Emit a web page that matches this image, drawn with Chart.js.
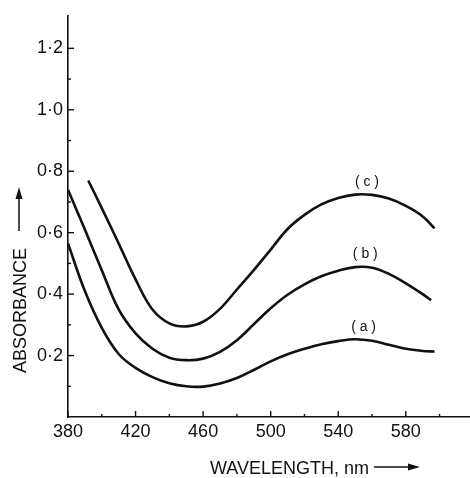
<!DOCTYPE html>
<html><head><meta charset="utf-8">
<script src="https://cdn.jsdelivr.net/npm/chart.js@4.4.0/dist/chart.umd.min.js"></script>
<style>html,body{margin:0;padding:0;background:#fff}#wrap{width:470px;height:478px;position:relative}</style>
</head><body><div id="wrap"><canvas id="c"></canvas></div>
<script>
// ---- data ----
const wavelengthA = [380,390,400,410,420,430,440,450,460,470,480,490,500,510,520,530,540,550,560,570,580,590,597];
const absorbanceA = [0.565,0.41,0.29,0.205,0.16,0.13,0.11,0.1,0.099,0.109,0.127,0.153,0.181,0.204,0.222,0.237,0.247,0.253,0.248,0.235,0.222,0.215,0.213];

const wavelengthB = [380,390,400,410,420,430,440,450,460,470,480,490,500,510,520,530,540,550,560,570,580,590,595];
const absorbanceB = [0.74,0.61,0.478,0.35,0.272,0.222,0.193,0.185,0.19,0.212,0.25,0.302,0.354,0.398,0.432,0.458,0.476,0.488,0.486,0.466,0.435,0.4,0.38];

const wavelengthC = [392,400,410,420,430,440,450,460,470,480,490,500,510,520,530,540,550,560,570,580,590,597];
const absorbanceC = [0.77,0.68,0.565,0.448,0.35,0.305,0.295,0.31,0.352,0.415,0.478,0.545,0.612,0.658,0.692,0.713,0.724,0.723,0.711,0.687,0.653,0.614];

const xTicks = [380,420,460,500,540,580];
const xMinorTicks = [400,440,480,520,560,600];
const yTicks = [0.2,0.4,0.6,0.8,1.0,1.2];
const yTickLabels = ['0·2','0·4','0·6','0·8','1·0','1·2'];
const yMinorTicks = [0.1,0.3,0.5,0.7,0.9,1.1];

const curveLabels = ['( a )','( b )','( c )'];
const curveLabelX = [555,556,557];
const curveLabelY = [0.294,0.529,0.765];

const xTitle = 'WAVELENGTH, nm';
const yTitle = 'ABSORBANCE';

// ---- chart ----
const INK = '#111';
const FONT = '"Liberation Sans", Arial, sans-serif';
const toXY = (xs, ys) => xs.map((x, i) => ({x, y: ys[i]}));
const ds = (label, xs, ys) => ({
  label, data: toXY(xs, ys), borderColor: INK, borderWidth: 2.6,
  pointRadius: 0, fill: false, tension: 0.4, borderCapStyle: 'butt'
});

const decor = {
  id: 'decor',
  afterDraw(chart) {
    const {ctx, scales: {x, y}, chartArea: ca} = chart;
    ctx.save();
    ctx.strokeStyle = INK; ctx.fillStyle = INK; ctx.lineWidth = 1.4;
    // inward tick marks
    const tickY = (v, len) => { const p = y.getPixelForValue(v); ctx.beginPath(); ctx.moveTo(ca.left, p); ctx.lineTo(ca.left + len, p); ctx.stroke(); };
    const tickX = (v, len) => { const p = x.getPixelForValue(v); ctx.beginPath(); ctx.moveTo(p, ca.bottom); ctx.lineTo(p, ca.bottom - len); ctx.stroke(); };
    yTicks.forEach(v => tickY(v, 6)); yMinorTicks.forEach(v => tickY(v, 3));
    xTicks.forEach(v => tickX(v, 6)); xMinorTicks.forEach(v => tickX(v, 3));
    // curve labels
    ctx.font = '14px ' + FONT; ctx.textAlign = 'center'; ctx.textBaseline = 'middle';
    curveLabels.forEach((t, i) => ctx.fillText(t, x.getPixelForValue(curveLabelX[i]), y.getPixelForValue(curveLabelY[i])));
    // axis titles
    ctx.font = '18px ' + FONT;
    ctx.textAlign = 'left'; ctx.textBaseline = 'alphabetic';
    ctx.fillText(xTitle, 210, 474);
    const xw = ctx.measureText(xTitle).width;
    const ax0 = 210 + xw + 5, ax1 = 420, ay = 467;
    ctx.lineWidth = 1.5;
    ctx.beginPath(); ctx.moveTo(ax0, ay); ctx.lineTo(ax1 - 8, ay); ctx.stroke();
    ctx.beginPath(); ctx.moveTo(ax1, ay); ctx.lineTo(ax1 - 12, ay - 3.5); ctx.lineTo(ax1 - 12, ay + 3.5); ctx.closePath(); ctx.fill();
    ctx.save();
    ctx.translate(26, 373); ctx.rotate(-Math.PI / 2);
    ctx.fillText(yTitle, 0, 0);
    ctx.restore();
    const yx = 19, y0 = 231, y1 = 187;
    ctx.beginPath(); ctx.moveTo(yx, y0); ctx.lineTo(yx, y1 + 8); ctx.stroke();
    ctx.beginPath(); ctx.moveTo(yx, y1); ctx.lineTo(yx - 3.5, y1 + 12); ctx.lineTo(yx + 3.5, y1 + 12); ctx.closePath(); ctx.fill();
    ctx.restore();
  }
};

new Chart(document.getElementById('c'), {
  type: 'line',
  data: { datasets: [ds('(a)', wavelengthA, absorbanceA), ds('(b)', wavelengthB, absorbanceB), ds('(c)', wavelengthC, absorbanceC)] },
  options: {
    responsive: true, maintainAspectRatio: false, animation: false, devicePixelRatio: 1,
    layout: { padding: { top: 12, right: 0, left: 0, bottom: 0 } },
    plugins: { legend: { display: false }, tooltip: { enabled: false } },
    scales: {
      x: {
        type: 'linear', min: 380, max: 618,
        afterBuildTicks: s => { s.ticks = xTicks.map(v => ({value: v})); },
        afterFit: s => { s.height = 61; },
        ticks: { color: INK, font: { family: FONT, size: 18 }, padding: 4, maxRotation: 0, autoSkip: false },
        grid: { display: false, drawTicks: false },
        border: { display: true, color: INK, width: 1.6 }
      },
      y: {
        type: 'linear', min: 0, max: 1.306,
        afterBuildTicks: s => { s.ticks = yTicks.map(v => ({value: v})); },
        afterFit: s => { s.width = 68; },
        ticks: { color: INK, font: { family: FONT, size: 18 }, padding: 5, autoSkip: false,
                 callback: (v, i) => yTickLabels[i] },
        grid: { display: false, drawTicks: false },
        border: { display: true, color: INK, width: 1.6 }
      }
    }
  },
  plugins: [decor]
});
</script></body></html>
